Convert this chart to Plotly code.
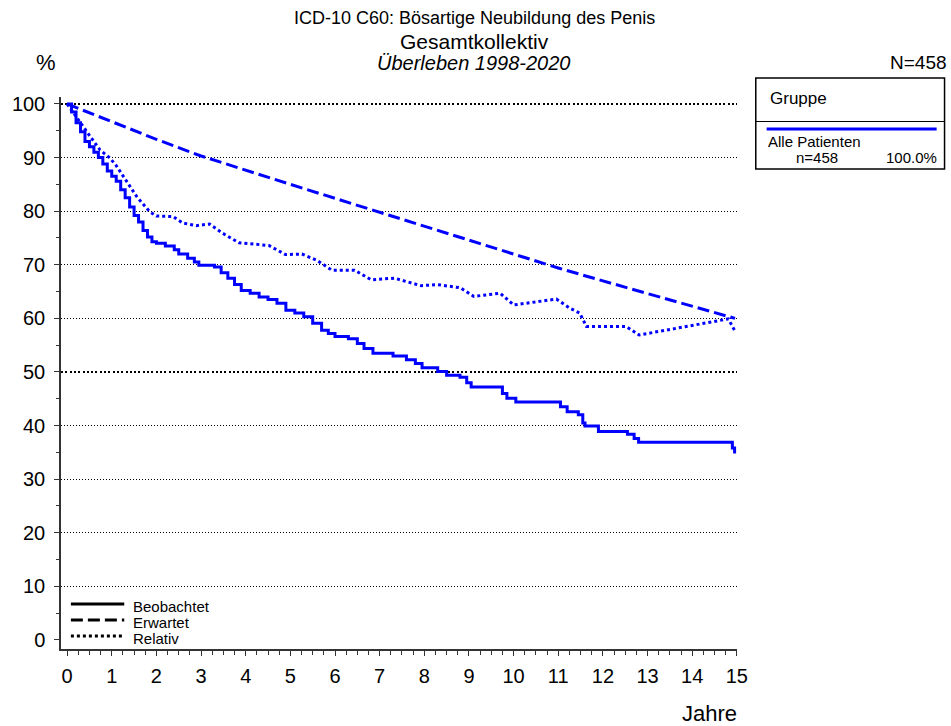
import plotly.graph_objects as go

# ---------------- data ----------------
obs_years = [0, 0.1, 0.2, 0.3, 0.4, 0.5, 0.6, 0.7, 0.8, 0.9, 1.0, 1.1, 1.2, 1.3, 1.4, 1.5, 1.6,
             1.7, 1.8, 1.9, 2.0, 2.2, 2.4, 2.5, 2.7, 2.85, 2.95, 3.3, 3.45, 3.6, 3.75, 3.9, 4.1,
             4.3, 4.5, 4.7, 4.9, 5.1, 5.3, 5.5, 5.7, 5.85, 6.0, 6.3, 6.5, 6.65, 6.85, 7.3, 7.6,
             7.8, 7.95, 8.3, 8.5, 8.8, 8.95, 9.05, 9.75, 9.85, 10.05, 11.05, 11.2, 11.45, 11.55,
             11.6, 11.9, 12.55, 12.7, 12.8, 14.9, 14.95]
obs_values = [100, 98.5, 96.5, 94.8, 93.0, 92.0, 91.0, 90.0, 88.8, 87.5, 86.5, 85.6, 84.0, 82.5,
              80.8, 79.2, 78.0, 76.4, 75.2, 74.3, 74.0, 73.5, 72.8, 72.0, 71.2, 70.5, 69.9, 69.6,
              68.5, 67.5, 66.3, 65.2, 64.7, 64.0, 63.5, 62.8, 61.5, 61.0, 60.3, 59.1, 57.8, 57.2,
              56.6, 56.2, 55.3, 54.4, 53.5, 53.0, 52.3, 51.6, 50.8, 50.1, 49.4, 49.0, 48.0, 47.2,
              46.0, 45.1, 44.4, 43.5, 42.6, 42.0, 40.5, 39.9, 38.9, 38.4, 37.6, 36.9, 35.8, 34.8]

exp_years = [0, 1, 2, 3, 4, 5, 6, 7, 8, 9, 10, 11, 12, 13, 14, 14.96]
exp_values = [100, 96.7, 93.4, 90.3, 87.6, 85.0, 82.4, 79.8, 77.2, 74.6, 72.0, 69.4, 67.0, 64.6,
              62.3, 60.0]

rel_years = [0, 0.3, 0.52, 0.74, 0.96, 1.1, 1.26, 1.56, 1.85, 2.0, 2.37, 2.59, 2.89, 3.19, 3.48,
             3.85, 4.52, 4.89, 5.26, 5.6, 5.93, 6.44, 6.81, 7.33, 7.93, 8.3, 8.81, 9.11, 9.7,
             10.0, 10.52, 10.96, 11.26, 11.48, 11.63, 12.52, 12.81, 13.48, 14.81, 14.96]
rel_values = [100, 96.4, 93.9, 91.4, 89.9, 88.5, 86.5, 82.7, 79.9, 79.1, 79.0, 77.8, 77.3, 77.6,
              75.9, 74.1, 73.6, 71.9, 72.0, 70.8, 69.0, 69.0, 67.2, 67.5, 66.1, 66.3, 65.7, 64.1,
              64.7, 62.5, 63.1, 63.6, 61.9, 61.0, 58.5, 58.5, 56.9, 57.9, 59.9, 57.6]

x_ticks = list(range(0, 16))
y_ticks = list(range(0, 101, 10))
thin_grid = [10, 20, 30, 40, 60, 70, 80, 90]
bold_grid = [50, 100]

title_lines = ["ICD-10 C60: Bösartige Neubildung des Penis", "Gesamtkollektiv",
               "<i>Überleben 1998-2020</i>"]
legend_labels = ["Beobachtet", "Erwartet", "Relativ"]
group_header = "Gruppe"
group_name = "Alle Patienten"
group_n = "n=458"
group_pct = "100.0%"
total_n = "N=458"

# ---------------- layout geometry ----------------
W, H = 951, 726
L, R, T, B = 53, 737, 97, 649
FONT = "Liberation Sans, Arial, sans-serif"
BLUE = "#0000ff"
DASH = "12px,5px"
DOT = "3px,3px"


def px(x):
    return (x - L) / (R - L)


def py(y):
    return (B - y) / (B - T)


fig = go.Figure()
fig.add_trace(go.Scatter(x=obs_years, y=obs_values, mode="lines", line_shape="hv",
                         line=dict(color=BLUE, width=3), showlegend=False, hoverinfo="skip"))
fig.add_trace(go.Scatter(x=exp_years, y=exp_values, mode="lines",
                         line=dict(color=BLUE, width=3, dash=DASH), showlegend=False,
                         hoverinfo="skip"))
fig.add_trace(go.Scatter(x=rel_years, y=rel_values, mode="lines",
                         line=dict(color=BLUE, width=3, dash=DOT), showlegend=False,
                         hoverinfo="skip"))

yr = [-1.68, 101.3]
axis_col = "#333333"

fig.update_layout(
    width=W, height=H,
    margin=dict(l=L, r=W - R, t=T, b=H - B, pad=0),
    paper_bgcolor="white", plot_bgcolor="white",
    font=dict(family=FONT, color="black"),
    xaxis=dict(range=[-0.137, 15.004], tickvals=x_ticks, ticktext=[str(v) for v in x_ticks],
               showgrid=False, zeroline=False, showline=True, linecolor=axis_col, linewidth=1.5,
               ticks="outside", ticklen=5, tickwidth=1.2, tickcolor=axis_col,
               tickfont=dict(size=20, family=FONT), ticklabelstandoff=3,
               minor=dict(dtick=0.25, tick0=0, ticks="outside", ticklen=4, tickwidth=1.2,
                          tickcolor=axis_col, showgrid=False)),
    yaxis=dict(range=yr, tickvals=y_ticks, ticktext=[str(v) for v in y_ticks],
               showgrid=False, zeroline=False, showline=True, linecolor=axis_col, linewidth=1.5,
               ticks="outside", ticklen=5, tickwidth=1.2, tickcolor=axis_col,
               tickfont=dict(size=20, family=FONT), ticklabelstandoff=5,
               minor=dict(dtick=5, tick0=0, ticks="outside", ticklen=3, tickwidth=1.2,
                          tickcolor=axis_col, showgrid=False)),
    yaxis2=dict(range=yr, overlaying="y", anchor="x", tickvals=thin_grid, showticklabels=False,
                ticks="", showline=False, zeroline=False, showgrid=True, gridcolor="black",
                gridwidth=1, griddash="1px,2px"),
    yaxis3=dict(range=yr, overlaying="y", anchor="x", tickvals=bold_grid, showticklabels=False,
                ticks="", showline=False, zeroline=False, showgrid=True, gridcolor="black",
                gridwidth=2, griddash="2px,2.3px"),
)

# invisible anchors for the grid axes
fig.add_trace(go.Scatter(x=[None], y=[None], yaxis="y2", showlegend=False, hoverinfo="skip"))
fig.add_trace(go.Scatter(x=[None], y=[None], yaxis="y3", showlegend=False, hoverinfo="skip"))

ann = []
# titles
for text, yc, size in zip(title_lines, [18, 41.5, 63], [18, 21, 20]):
    ann.append(dict(text=text, x=px(471), y=py(yc), xref="paper", yref="paper",
                    xanchor="center", yanchor="middle", showarrow=False,
                    font=dict(size=size, family=FONT)))
ann.append(dict(text="%", x=px(38), y=py(63), xref="paper", yref="paper", xanchor="center",
                yanchor="middle", showarrow=False, font=dict(size=22, family=FONT)))
ann.append(dict(text=total_n, x=px(952), y=py(63), xref="paper", yref="paper", xanchor="right",
                yanchor="middle", showarrow=False, font=dict(size=19, family=FONT)))
ann.append(dict(text="Jahre", x=px(739), y=py(713), xref="paper", yref="paper", xanchor="right",
                yanchor="middle", showarrow=False, font=dict(size=22, family=FONT)))

shapes = []
# bottom-left line-style legend
for lbl, yc, dash in zip(legend_labels, [604, 620, 636], ["solid", DASH, DOT]):
    shapes.append(dict(type="line", xref="paper", yref="paper", x0=px(63), x1=px(117),
                       y0=py(yc), y1=py(yc), line=dict(color="black", width=3, dash=dash)))
    ann.append(dict(text=lbl, x=px(124), y=py(yc + 2), xref="paper", yref="paper",
                    xanchor="left", yanchor="middle", showarrow=False,
                    font=dict(size=15, family=FONT)))

# group legend box (top right)
shapes.append(dict(type="rect", xref="paper", yref="paper", x0=px(756), x1=px(947),
                   y0=py(78), y1=py(169), line=dict(color="black", width=1.5)))
shapes.append(dict(type="line", xref="paper", yref="paper", x0=px(756), x1=px(947),
                   y0=py(121.5), y1=py(121.5), line=dict(color="black", width=1.2)))
shapes.append(dict(type="line", xref="paper", yref="paper", x0=px(767), x1=px(939),
                   y0=py(129), y1=py(129), line=dict(color=BLUE, width=3)))
ann.append(dict(text=group_header, x=px(768), y=py(98), xref="paper", yref="paper",
                xanchor="left", yanchor="middle", showarrow=False, font=dict(size=17, family=FONT)))
ann.append(dict(text=group_name, x=px(767), y=py(141.5), xref="paper", yref="paper",
                xanchor="left", yanchor="middle", showarrow=False, font=dict(size=15, family=FONT),
                borderpad=0))
ann.append(dict(text=group_n, x=px(818), y=py(157.5), xref="paper", yref="paper",
                xanchor="center", yanchor="middle", showarrow=False, font=dict(size=15, family=FONT),
                borderpad=0))
ann.append(dict(text=group_pct, x=px(940), y=py(157.5), xref="paper", yref="paper",
                xanchor="right", yanchor="middle", showarrow=False, font=dict(size=15, family=FONT),
                borderpad=0))

fig.update_layout(annotations=ann, shapes=shapes)

fig.write_html("out.html", config={"displayModeBar": False},
               post_script="document.body.style.margin='0';")
